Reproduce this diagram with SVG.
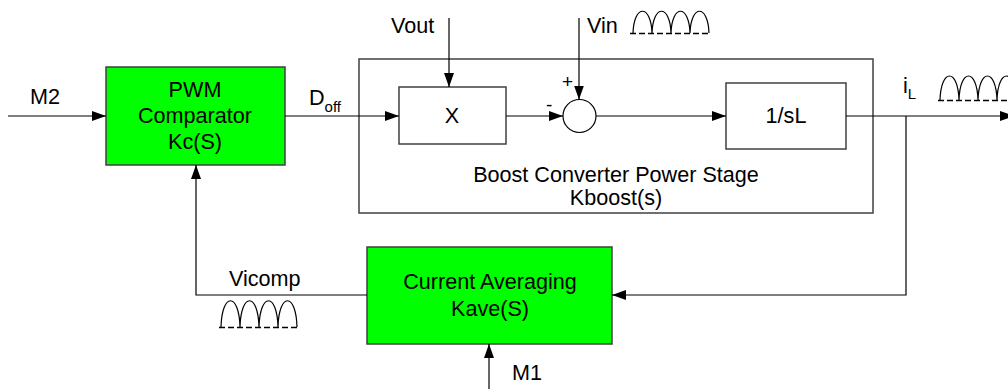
<svg xmlns="http://www.w3.org/2000/svg" width="1008" height="389" viewBox="0 0 1008 389">
<style>
text{font-family:"Liberation Sans",Arial,sans-serif;font-size:21.6px;fill:#000}
.mid{text-anchor:middle}
.box{fill:#fff;stroke:#404040;stroke-width:1.5}
.gbox{fill:#00ff00;stroke:#404040;stroke-width:1.5}
.ln{fill:none;stroke:#000;stroke-width:1.2}
.arr{fill:none;stroke:#000;stroke-width:1.2;marker-end:url(#ah)}
.wave{fill:none;stroke:#000;stroke-width:1.2}
.base{fill:none;stroke:#000;stroke-width:1.5;stroke-dasharray:6 3}
</style>
<defs>
<marker id="ah" markerUnits="userSpaceOnUse" markerWidth="15" markerHeight="10" refX="14" refY="5" orient="auto">
<path d="M0,0 L14,5 L0,10 Z" fill="#000"/>
</marker>
</defs>

<g id="boost-stage">
<rect class="box" x="359" y="59" width="514" height="154"/>
<text class="mid" x="616" y="182">Boost Converter Power Stage</text>
<text class="mid" x="616" y="205">Kboost(s)</text>
</g>

<g id="pwm">
<rect class="gbox" x="106" y="67" width="179" height="98"/>
<text class="mid" x="195" y="97">PWM</text>
<text class="mid" x="195" y="123">Comparator</text>
<text class="mid" x="195" y="149">Kc(S)</text>
</g>

<g id="mult">
<rect class="box" x="399" y="87" width="107" height="57"/>
<text class="mid" x="452" y="123">X</text>
</g>

<g id="sum">
<circle cx="579.5" cy="116" r="16.5" fill="#fff" stroke="#000" stroke-width="1.2"/>
<text x="562" y="88" style="font-size:19px">+</text>
<text x="546" y="111" style="font-size:19px">-</text>
</g>

<g id="inductor">
<rect class="box" x="726" y="83" width="120" height="66"/>
<text class="mid" x="786" y="123">1/sL</text>
</g>

<g id="avg">
<rect class="gbox" x="367" y="247" width="245" height="97"/>
<text class="mid" x="490" y="289">Current Averaging</text>
<text class="mid" x="490" y="316">Kave(S)</text>
</g>

<g id="connectors">
<path class="arr" d="M8,116 H106"/>
<path class="arr" d="M285,116 H399"/>
<path class="arr" d="M449,18 V87"/>
<path class="arr" d="M579,18 V99.5"/>
<path class="arr" d="M506,116 H563"/>
<path class="arr" d="M596,116 H726"/>
<path class="arr" d="M846,116 H1014"/>
<path class="arr" d="M906,116 V295 H612"/>
<path class="arr" d="M367,295 H196 V165"/>
<path class="arr" d="M489,389 V344"/>
</g>

<g id="labels">
<text x="30" y="104">M2</text>
<text x="309" y="105">D<tspan style="font-size:15px" dy="7">off</tspan></text>
<text x="391" y="33">Vout</text>
<text x="587" y="33">Vin</text>
<text x="903" y="93">i<tspan style="font-size:15px" dy="6">L</tspan></text>
<text x="229" y="286">Vicomp</text>
<text x="512" y="380">M1</text>
</g>

<g id="waveforms">
<path class="wave" d="M633,33 C634,4 651,4 652,33 C653,4 670,4 671,33 C672,4 689,4 690,33 C691,4 708,4 709,33"/>
<path class="base" d="M630,33.5 H710"/>
<path class="wave" d="M221,327 C222,292 239,292 240,327 C241,292 258,292 259,327 C260,292 277,292 278,327 C279,292 296,292 297,327"/>
<path class="base" d="M219,327.5 H299"/>
<path class="wave" d="M940,100 C941,68 958,68 959,100 C960,68 977,68 978,100 C979,68 996,68 997,100 C998,68 1015,68 1016,100"/>
<path class="base" d="M938,100.5 H1010"/>
</g>
</svg>
